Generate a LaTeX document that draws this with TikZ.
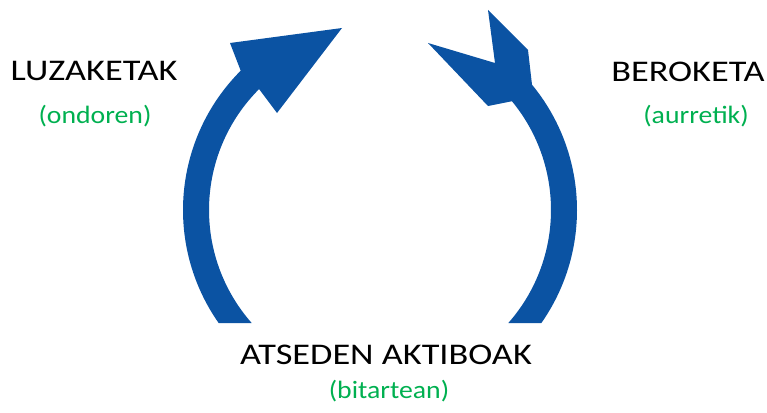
\documentclass[tikz,border=0pt]{standalone}
\usepackage{fontspec}
\setmainfont{Carlito}
\usepackage{graphicx}
\usetikzlibrary{calc}
\definecolor{arrowblue}{HTML}{0B53A3}
\definecolor{labelgreen}{HTML}{00B050}
\begin{document}
\begin{tikzpicture}[x=1pt,y=-1pt,
  title/.style={font=\fontsize{30}{32}\selectfont, text=black, inner sep=0pt, anchor=center},
  sub/.style={font=\fontsize{25}{28}\selectfont, text=labelgreen, inner sep=0pt, anchor=center},
  band/.style={fill=arrowblue}]
\useasboundingbox (0,0) rectangle (767,412);
\coordinate (c) at (380,210);
% left arc with arrowhead
\fill[band] ($(c)+(145:197)$) arc[start angle=145, end angle=225, radius=197]
  -- (230,43) -- (342,28) -- (277,113)
  -- ($(c)+(225:171)$) arc[start angle=225, end angle=138.6, radius=171] -- cycle;
% right arc with notched tail
\fill[band] (428,43) -- (495,63) -- (488,10) -- (528,50)
  -- ($(c)+(-39.5:197)$) arc[start angle=-39.5, end angle=35, radius=197]
  -- ($(c)+(41.4:171)$) arc[start angle=41.4, end angle=-39.5, radius=171]
  -- (488,106) -- cycle;
\node[title] (luz) at (94,71) {\scalebox{1.21}[1]{LUZAKETAK}};
\node[sub] (ond) at (95,116) {\scalebox{1.11}[1]{(ondoren)}};
\node[title] (ber) at (688,72) {\scalebox{1.21}[1]{BEROKETA}};
\node[sub] (aur) at (696,116) {\scalebox{1.11}[1]{(aurretik)}};
\node[title] (ats) at (386,355) {\scalebox{1.21}[1]{ATSEDEN AKTIBOAK}};
\node[sub] (bit) at (389,391) {\scalebox{1.11}[1]{(bitartean)}};
\end{tikzpicture}
\end{document}
